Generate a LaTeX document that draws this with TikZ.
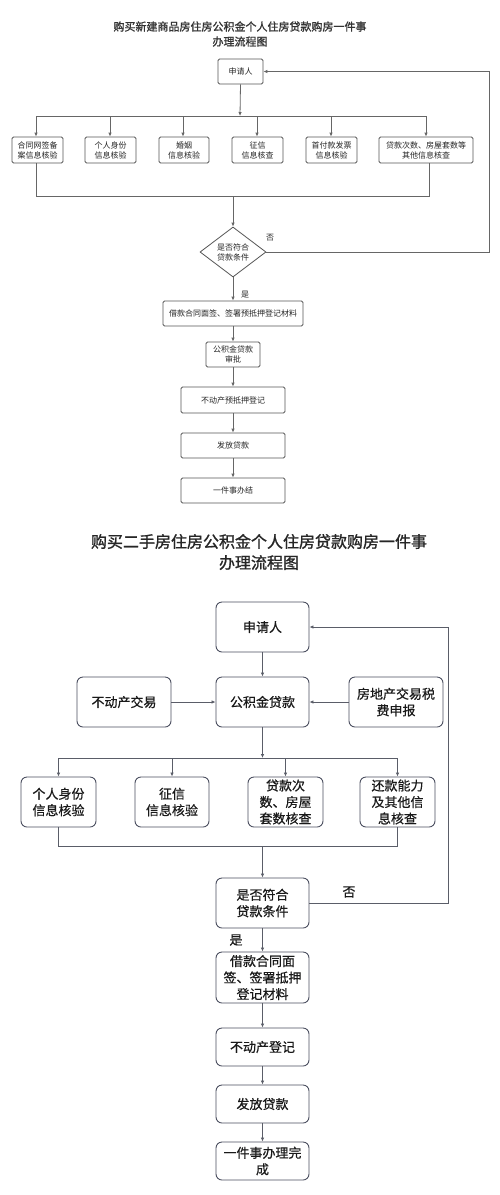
\documentclass[tikz,border=0pt]{standalone}
\usepackage{fontspec}
\setmainfont{Noto Sans CJK SC}
\newfontfamily\titlef{Noto Sans CJK SC}[FakeBold=1.2]
\newfontfamily\medf{Noto Sans CJK SC}[FakeBold=0.5]
\usetikzlibrary{shapes.geometric,arrows.meta}
\definecolor{lineA}{HTML}{666666}
\definecolor{boxA}{HTML}{555555}
\definecolor{boxB}{HTML}{4B4F60}
\definecolor{lineB}{HTML}{5A5D68}
\tikzset{
  x=1pt,y=-1pt,
  tbox/.style={draw=boxA,line width=0.8pt,rounded corners=1.5pt,inner sep=0pt,align=center,
    font=\fontsize{8}{10}\selectfont,text=black!85},
  tdia/.style={draw=boxA,line width=0.8pt,diamond,inner sep=0pt,align=center,
    minimum width=66pt,minimum height=50pt,font=\fontsize{8}{10}\selectfont,text=black!85},
  tline/.style={draw=lineA,line width=0.8pt},
  tarr/.style={tline,-{Latex[length=4pt,width=3.5pt]}},
  bbox/.style={draw=boxB,line width=0.9pt,rounded corners=6pt,inner sep=0pt,align=center,
    font=\medf\fontsize{13}{16.5}\selectfont,text=black!90},
  bline/.style={draw=lineB,line width=0.9pt},
  barr/.style={bline,-{Latex[length=4pt,width=3.5pt]}},
  lblA/.style={font=\fontsize{8}{10}\selectfont,text=black!85},
  lblB/.style={font=\medf\fontsize{13}{16}\selectfont,text=black!90},
}
\begin{document}
\begin{tikzpicture}
\useasboundingbox[fill=white] (0,0) rectangle (500,1195);

% ---------------- Top section ----------------
\node[font=\titlef\fontsize{11}{15}\selectfont,align=center,text=black!80] (t1) at (240,34) {购买新建商品房住房公积金个人住房贷款购房一件事\\办理流程图};

\node[tbox,minimum width=45pt,minimum height=25pt] (a1) at (240.5,71.5) {申请人};

\node[tbox,minimum width=51pt,minimum height=26pt] (r1) at (37.5,150) {合同网签备\\案信息核验};
\node[tbox,minimum width=51pt,minimum height=26pt] (r2) at (110.5,150) {个人身份\\信息核验};
\node[tbox,minimum width=50pt,minimum height=26pt] (r3) at (184,150) {婚姻\\信息核验};
\node[tbox,minimum width=51pt,minimum height=26pt] (r4) at (257.5,150) {征信\\信息核查};
\node[tbox,minimum width=51pt,minimum height=26pt] (r5) at (331.5,150) {首付款发票\\信息核验};
\node[tbox,minimum width=94pt,minimum height=26pt] (r6) at (426,150) {贷款次数、房屋套数等\\其他信息核查};

\coordinate (sp) at (240,116);
\draw[tarr] (a1.south) -- (sp);
\draw[tline] (36,116) -- (426,116);
\draw[tarr] (36,116) -- (r1.north -| 36,0);
\draw[tarr] (110,116) -- (r2.north -| 110,0);
\draw[tarr] (183,116) -- (r3.north -| 183,0);
\draw[tarr] (257,116) -- (r4.north -| 257,0);
\draw[tarr] (331,116) -- (r5.north -| 331,0);
\draw[tarr] (426,116) -- (r6.north -| 426,0);

\node[tdia] (d1) at (233,252) {是否符合\\贷款条件};
\coordinate (j1) at (233,196);
\draw[tline] (r1.south -| 36,0) -- (36,196) -- (429,196) -- (r6.south -| 429,0);
\draw[tarr] (j1) -- (d1.north);

\coordinate (lp1) at (489,252);
\coordinate (lp2) at (489,71.5);
\draw[tarr] (d1.east) -- (lp1) -- (lp2) -- (a1.east);
\node[lblA] (no1) at (270,238) {否};

\node[tbox,minimum width=140pt,minimum height=25pt] (b1) at (233,313.5) {借款合同面签、签署预抵押登记材料};
\node[tbox,minimum width=54pt,minimum height=25pt] (b2) at (233,354.5) {公积金贷款\\审批};
\node[tbox,minimum width=104pt,minimum height=26pt] (b3) at (233,400) {不动产预抵押登记};
\node[tbox,minimum width=104pt,minimum height=25pt] (b4) at (233,445.5) {发放贷款};
\node[tbox,minimum width=104pt,minimum height=25pt] (b5) at (233,490.5) {一件事办结};

\draw[tarr] (d1.south) -- (b1.north);
\node[lblA] (yes1) at (245,295) {是};
\draw[tarr] (b1) -- (b2);
\draw[tarr] (b2) -- (b3);
\draw[tarr] (b3) -- (b4);
\draw[tarr] (b4) -- (b5);

% ---------------- Bottom section ----------------
\node[font=\titlef\fontsize{16}{21}\selectfont,align=center,text=black!85] (t2) at (259,552) {购买二手房住房公积金个人住房贷款购房一件事\\办理流程图};

\node[bbox,minimum width=93pt,minimum height=50pt] (c1) at (262.5,627) {申请人};
\node[bbox,minimum width=93pt,minimum height=50pt] (c2) at (262.5,702) {公积金贷款};
\node[bbox,minimum width=94pt,minimum height=50pt] (c3) at (124,702) {不动产交易};
\node[bbox,minimum width=94pt,minimum height=50pt] (c4) at (396,702) {房地产交易税\\费申报};

\draw[barr] (c1) -- (c2);
\draw[barr] (c3) -- (c2);
\draw[barr] (c4) -- (c2);

\node[bbox,minimum width=75pt,minimum height=50pt] (s1) at (58.5,802) {个人身份\\信息核验};
\node[bbox,minimum width=74pt,minimum height=50pt] (s2) at (172,802) {征信\\信息核验};
\node[bbox,minimum width=75pt,minimum height=50pt] (s3) at (285.5,802) {贷款次\\数、房屋\\套数核查};
\node[bbox,minimum width=75pt,minimum height=50pt] (s4) at (397.5,802) {还款能力\\及其他信\\息核查};

\coordinate (sp2) at (262.5,758);
\draw[barr] (c2.south) -- (sp2);
\draw[bline] (58.5,758) -- (397.5,758);
\draw[barr] (58.5,758) -- (s1.north);
\draw[barr] (172,758) -- (s2.north);
\draw[barr] (285.5,758) -- (s3.north);
\draw[barr] (397.5,758) -- (s4.north);

\node[bbox,minimum width=93pt,minimum height=50pt] (d2) at (262.5,903) {是否符合\\贷款条件};
\coordinate (j2) at (262.5,846);
\draw[bline] (s1.south) -- (58.5,846) -- (397.5,846) -- (s4.south);
\draw[barr] (j2) -- (d2.north);

\coordinate (lq1) at (448,903);
\coordinate (lq2) at (448,627);
\draw[barr] (d2.east) -- (lq1) -- (lq2) -- (c1.east);
\node[lblB] (no2) at (349,892) {否};

\node[bbox,minimum width=93pt,minimum height=51pt] (e1) at (262.5,977.5) {借款合同面\\签、签署抵押\\登记材料};
\node[bbox,minimum width=93pt,minimum height=38pt] (e2) at (262.5,1047) {不动产登记};
\node[bbox,minimum width=93pt,minimum height=38pt] (e3) at (262.5,1104) {发放贷款};
\node[bbox,minimum width=93pt,minimum height=38pt] (e4) at (262.5,1161) {一件事办理完\\成};

\draw[barr] (d2.south) -- (e1.north);
\node[lblB] (yes2) at (236,940) {是};
\draw[barr] (e1) -- (e2);
\draw[barr] (e2) -- (e3);
\draw[barr] (e3) -- (e4);
\end{tikzpicture}
\end{document}
